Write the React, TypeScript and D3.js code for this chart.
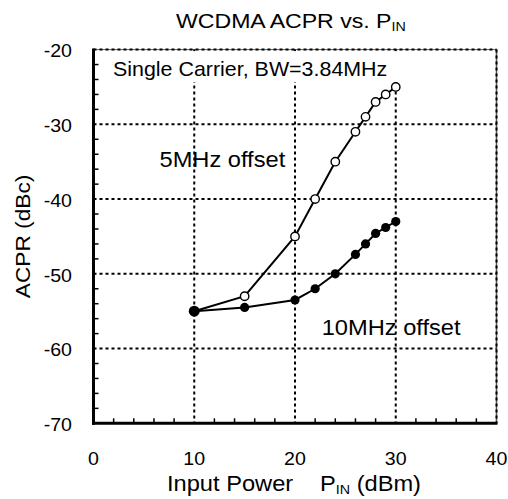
import React from "react";
import * as d3 from "d3";

const pin5 = [10, 15, 20, 22, 24, 26, 27, 28, 29, 30];
const acpr5 = [-55, -53, -45, -40, -35, -31, -29, -27, -26, -25];
const pin10 = [10, 15, 20, 22, 24, 26, 27, 28, 29, 30];
const acpr10 = [-55, -54.5, -53.5, -52, -50, -47.4, -46, -44.6, -43.8, -43];
const xTicks = [0, 10, 20, 30, 40];
const yTicks = [-20, -30, -40, -50, -60, -70];
const xGrid = [10, 20, 30, 40];
const yGrid = [-20, -30, -40, -50, -60];

const W = 508, H = 499;
const L = 93.5, R = 496.5, T = 49.6, B = 423.3;
const FONT = "'Liberation Sans', Arial, sans-serif";

function Txt(props: { x: number; y: number; sx?: number; size: number; anchor?: string; rotate?: number; children: React.ReactNode }) {
  const { x, y, sx = 1.08, size, anchor = "start", rotate = 0, children } = props;
  return (
    <text
      transform={`translate(${x},${y}) rotate(${rotate}) scale(${sx},1)`}
      textAnchor={anchor}
      fontSize={size}
      fill="#000"
    >
      {children}
    </text>
  );
}

export default function App() {
  const x = d3.scaleLinear().domain([0, 40]).range([L, R]);
  const y = d3.scaleLinear().domain([-70, -20]).range([B, T]);
  const line = d3.line<[number, number]>().x(d => x(d[0])).y(d => y(d[1]));
  const d5 = pin5.map((p, i) => [p, acpr5[i]] as [number, number]);
  const d10 = pin10.map((p, i) => [p, acpr10[i]] as [number, number]);
  const minorX = d3.range(2, 40, 2).filter(v => v % 10 !== 0);
  const minorY = d3.range(-68, -20, 2).filter(v => v % 10 !== 0);
  return (
    <svg width={W} height={H} style={{ position: "absolute", left: 0, top: 0 }} fontFamily={FONT}>
      <rect width={W} height={H} fill="#fff" />
      {/* frame top/right */}
      <line x1={L} x2={R} y1={T} y2={T} stroke="#666" strokeWidth={1} />
      <line x1={R} x2={R} y1={T} y2={B} stroke="#555" strokeWidth={1.5} />
      {/* grid */}
      {xGrid.map(v => (
        <line key={"gx" + v} x1={x(v)} x2={x(v)} y1={T} y2={B} stroke="#000" strokeWidth={2} strokeDasharray="3,3" />
      ))}
      {yGrid.map(v => (
        <line key={"gy" + v} x1={L} x2={R} y1={y(v)} y2={y(v)} stroke="#000" strokeWidth={2} strokeDasharray="3,3" />
      ))}
      {/* label box masking the grid */}
      <rect x={L + 2} y={T + 1.5} width={x(38) - L} height={82 - T - 1.5} fill="#fff" />
      {/* minor ticks */}
      {minorX.map(v => (
        <line key={"mx" + v} x1={x(v)} x2={x(v)} y1={B} y2={B - 5} stroke="#000" strokeWidth={1.5} />
      ))}
      {minorY.map(v => (
        <line key={"my" + v} x1={L} x2={L + 5} y1={y(v)} y2={y(v)} stroke="#000" strokeWidth={1.5} />
      ))}
      {/* axes */}
      <line x1={L} x2={L} y1={T - 1} y2={B + 1.5} stroke="#000" strokeWidth={3} />
      <line x1={L - 1.5} x2={R + 1} y1={B} y2={B} stroke="#000" strokeWidth={3} />
      {/* series */}
      <path d={line(d5) || ""} fill="none" stroke="#000" strokeWidth={2} />
      <path d={line(d10) || ""} fill="none" stroke="#000" strokeWidth={2} />
      {d10.map((d, i) => (
        <circle key={"f" + i} cx={x(d[0])} cy={y(d[1])} r={i === 0 ? 5.5 : 4.6} fill="#000" />
      ))}
      {d5.slice(1).map((d, i) => (
        <circle key={"o" + i} cx={x(d[0])} cy={y(d[1])} r={4.2} fill="#fff" stroke="#000" strokeWidth={1.4} />
      ))}
      {/* tick labels */}
      {xTicks.map(v => (
        <Txt key={"xt" + v} x={x(v)} y={464.5} anchor="middle" size={18.5} sx={1.06}>{v}</Txt>
      ))}
      {yTicks.map(v => (
        <Txt key={"yt" + v} x={72} y={y(v) + 7.8} anchor="end" size={18.5} sx={1.06}>{v}</Txt>
      ))}
      {/* titles */}
      <Txt x={176} y={28} size={21} sx={1.1}>
        WCDMA ACPR vs. P<tspan fontSize={13} dy={3}>IN</tspan>
      </Txt>
      <Txt x={167} y={490.5} size={21.5} sx={1.1}>
        Input Power
      </Txt>
      <Txt x={320} y={490.5} size={21.5} sx={1.1}>
        P<tspan fontSize={13} dy={3}>IN</tspan><tspan dy={-3}> (dBm)</tspan>
      </Txt>
      <Txt x={30} y={(T + B) / 2} anchor="middle" size={21} sx={1.08} rotate={-90}>ACPR (dBc)</Txt>
      {/* annotations */}
      <Txt x={113} y={76} size={21} sx={1.02}>Single Carrier, BW=3.84MHz</Txt>
      <Txt x={159.5} y={166.5} size={21.5} sx={1.1}>5MHz offset</Txt>
      <Txt x={321.7} y={335} size={21.5} sx={1.1}>10MHz offset</Txt>
    </svg>
  );
}
